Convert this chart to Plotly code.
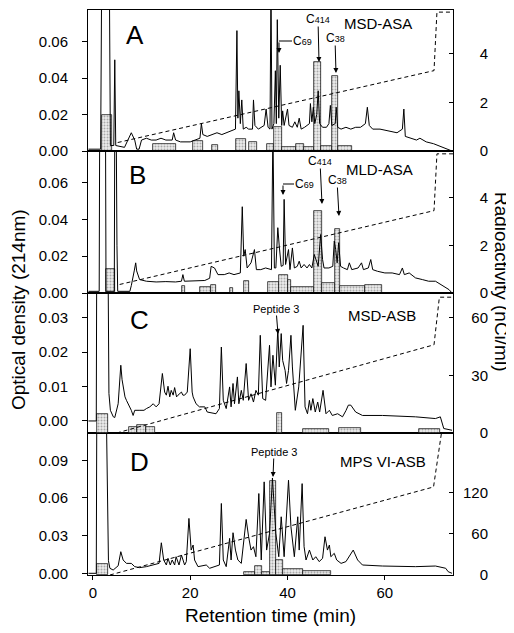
import plotly.graph_objects as go

FONT = "Liberation Sans, Arial, Helvetica, sans-serif"

# ---------------- data ----------------
x_ticks = [0, 20, 40, 60]

# Panel A : MSD-ASA   (time [min], optical density)
a_trace = [(-0.9, 0.001), (1.6, 0.001), (1.8, 0.09), (3.4, 0.09), (3.6, 0.003), (4.3, 0.003), (4.5, 0.050),
           (4.7, 0.003), (6.5, 0.002), (7.2, 0.006), (7.9, 0.010), (8.6, 0.006), (9.0, 0.001), (9.5, 0.001),
           (10.0, 0.006), (11, 0.007), (12, 0.006), (13, 0.006), (14, 0.007), (15, 0.006), (16.3, 0.006),
           (16.6, 0.010), (17.0, 0.006), (18, 0.005), (20, 0.005), (21, 0.006), (22, 0.007), (22.3, 0.015),
           (22.6, 0.009), (23.5, 0.008), (24.5, 0.009), (25.5, 0.010), (26.5, 0.009), (27.5, 0.010),
           (28.5, 0.011), (29.3, 0.012), (29.6, 0.066), (29.8, 0.018), (30.0, 0.033), (30.3, 0.015),
           (30.6, 0.028), (30.9, 0.012), (31.5, 0.013), (32.0, 0.012), (32.8, 0.012), (33.0, 0.028),
           (33.3, 0.014), (34.0, 0.012), (35.2, 0.014), (35.6, 0.023), (36.0, 0.013), (36.4, 0.012),
           (36.6, 0.09), (36.8, 0.012), (37.2, 0.015), (37.5, 0.044), (37.7, 0.015), (37.9, 0.072),
           (38.2, 0.018), (38.5, 0.047), (38.8, 0.014), (39.0, 0.022), (39.3, 0.014), (40.0, 0.023),
           (40.3, 0.014), (41.0, 0.013), (41.5, 0.016), (42.0, 0.013), (42.4, 0.018), (42.8, 0.012),
           (43.5, 0.013), (44.5, 0.015), (44.7, 0.026), (45.0, 0.016), (45.3, 0.024), (45.6, 0.015),
           (46.0, 0.020), (46.3, 0.033), (46.6, 0.015), (47.2, 0.013), (48.0, 0.013), (48.5, 0.015),
           (48.8, 0.025), (49.1, 0.014), (49.8, 0.015), (50.0, 0.024), (50.3, 0.013), (51, 0.012),
           (52, 0.013), (53, 0.012), (54, 0.013), (55, 0.013), (56.0, 0.015), (56.4, 0.024), (56.8, 0.014),
           (57.5, 0.012), (59, 0.012), (61, 0.011), (62.5, 0.010), (63.6, 0.012), (63.9, 0.023),
           (64.2, 0.008), (65.5, 0.007), (66.5, 0.006), (67.2, 0.007), (68.5, 0.005), (70, 0.004),
           (72, 0.002), (73.8, 0.0)]
# radioactivity fractions: (start, end, nCi/ml)
a_bins = [(1.9, 4.0, 1.5), (12.3, 17.1, 0.3), (20.5, 22.6, 0.4), (24.5, 25.8, 0.25), (29.4, 31.4, 0.5),
          (32.0, 33.7, 0.35), (35.7, 37.3, 0.3), (37.3, 38.9, 1.0), (38.9, 41.8, 0.15), (41.8, 43.4, 0.3),
          (43.4, 45.5, 0.15), (45.5, 46.9, 3.65), (46.9, 49.2, 0.2), (49.2, 50.4, 3.1), (50.4, 53.3, 0.2)]
a_grad = [(5.1, 6), (70.1, 57), (70.7, 98.5), (74, 98.5)]

# Panel B : MLD-ASA
b_trace = [(-0.9, 0.0009), (1.3, 0.0009), (1.4, 0.09), (2.6, 0.09), (2.7, 0.0009), (4.4, 0.0009),
           (4.5, 0.09), (4.8, 0.09), (4.95, 0.026), (5.1, 0.0009), (7.6, 0.0009), (7.9, 0.004), (8.5, 0.012),
           (8.8, 0.0164), (9.0, 0.012), (9.3, 0.009), (9.6, 0.0073), (11, 0.0064), (13, 0.0060),
           (15, 0.0062), (17, 0.0060), (18.2, 0.0064), (18.5, 0.010), (18.8, 0.0064), (21, 0.0064),
           (23, 0.0068), (24.0, 0.008), (24.3, 0.0145), (25.0, 0.0136), (25.3, 0.0118), (25.7, 0.010),
           (27, 0.010), (28, 0.0109), (29, 0.010), (30.3, 0.0109), (30.7, 0.0469), (31.0, 0.02),
           (31.3, 0.0236), (31.7, 0.0136), (32.5, 0.0164), (33.2, 0.0236), (33.6, 0.0127), (34.5, 0.0127),
           (35.5, 0.0136), (36.7, 0.0127), (37.0, 0.09), (37.3, 0.0136), (37.6, 0.0136), (38.0, 0.0355),
           (38.3, 0.0255), (38.7, 0.0145), (39.1, 0.015), (39.3, 0.0509), (39.6, 0.0155), (40.2, 0.0236),
           (40.5, 0.0127), (41.0, 0.0245), (41.4, 0.0136), (42.0, 0.0145), (42.4, 0.0173), (42.8, 0.0136),
           (43.4, 0.0155), (44.0, 0.0136), (44.5, 0.0155), (45.0, 0.0136), (45.5, 0.0209), (45.8, 0.0182),
           (46.3, 0.0145), (46.8, 0.0318), (47.2, 0.0182), (47.5, 0.0136), (48.5, 0.0136), (49.3, 0.0145),
           (49.6, 0.0282), (49.9, 0.0236), (50.2, 0.0164), (50.5, 0.0273), (50.9, 0.0145), (51.5, 0.0136),
           (52.3, 0.0127), (52.7, 0.0164), (53.2, 0.0127), (54.5, 0.0136), (55.2, 0.0164), (55.6, 0.0127),
           (56.6, 0.0136), (57.1, 0.0182), (57.5, 0.0127), (58.5, 0.0118), (60, 0.0109), (61.5, 0.0109),
           (63, 0.0100), (63.6, 0.0136), (64.0, 0.0100), (65.0, 0.0109), (66.3, 0.0082), (67.7, 0.0073),
           (69, 0.0064), (70.4, 0.0064), (72, 0.0036), (73.2, 0.0018), (73.8, 0.0)]
b_bins = [(2.7, 4.5, 1.0), (18.3, 19.0, 0.3), (22.0, 24.3, 0.25), (24.3, 25.3, 0.35), (28.1, 28.8, 0.2),
          (31.0, 32.0, 0.5), (36.0, 38.3, 0.45), (38.3, 40.0, 0.75), (40.0, 40.8, 0.55), (40.8, 45.4, 0.25),
          (45.4, 47.0, 3.45), (47.0, 49.8, 0.4), (49.8, 50.8, 2.67), (50.8, 56.0, 0.3), (56.0, 59.5, 0.35)]
b_grad = [(5.5, 6), (70.1, 58), (70.7, 98), (74, 98)]

# Panel C : MSD-ASB
c_trace = [(-0.9, 0.0), (0.7, 0.0), (0.8, 0.05), (3.1, 0.05), (3.3, 0.008), (3.6, 0.0031), (4.2, 0.0012),
           (4.5, 0.001), (5.2, 0.005), (5.5, 0.012), (5.74, 0.0162), (6.0, 0.012), (6.22, 0.0099),
           (6.6, 0.007), (6.9, 0.006), (7.24, 0.005), (7.6, 0.0041), (7.9, 0.0031), (8.27, 0.0016),
           (8.6, 0.0031), (9.5, 0.0031), (10.5, 0.0031), (11.0, 0.0036), (11.7, 0.0041), (12.4, 0.005),
           (13.0, 0.0041), (13.6, 0.005), (14.28, 0.0138), (14.75, 0.0084), (15.1, 0.0075), (15.44, 0.0101),
           (15.8, 0.007), (16.1, 0.0089), (16.5, 0.0075), (16.8, 0.0097), (17.2, 0.0070), (17.5, 0.0075),
           (18.2, 0.0084), (18.5, 0.0075), (18.85, 0.0075), (19.4, 0.0084), (20.0, 0.021), (20.4, 0.0084),
           (20.6, 0.007), (21.2, 0.005), (21.9, 0.0041), (23.0, 0.0041), (23.5, 0.0026), (25.3, 0.0021),
           (26.0, 0.0036), (26.4, 0.0215), (26.8, 0.006), (27.4, 0.0036), (28.1, 0.0099), (28.4, 0.0041),
           (28.8, 0.0109), (29.1, 0.005), (29.7, 0.0128), (30.0, 0.005), (30.5, 0.0089), (30.9, 0.006),
           (31.5, 0.0167), (32.0, 0.006), (32.5, 0.0079), (33.0, 0.0055), (33.5, 0.0089), (34.0, 0.0075),
           (34.4, 0.0249), (34.9, 0.0065), (35.5, 0.006), (36.3, 0.022), (36.6, 0.0099), (37.0, 0.0191),
           (37.5, 0.0104), (38.0, 0.0268), (38.3, 0.0157), (38.7, 0.0254), (39.0, 0.0176), (39.5, 0.0147),
           (39.8, 0.0109), (40.2, 0.0147), (40.7, 0.0249), (41.0, 0.0157), (41.6, 0.0031), (42.3, 0.0099),
           (43.2, 0.0278), (43.6, 0.0041), (44.1, 0.0021), (44.5, 0.006), (44.8, 0.0031), (45.2, 0.0065),
           (45.7, 0.0026), (46.2, 0.0055), (46.6, 0.0026), (47.3, 0.0089), (47.9, 0.0021), (48.6, 0.0031),
           (49.2, 0.0016), (50.3, 0.0021), (51.3, 0.0012), (52.0, 0.003), (52.5, 0.0046), (53.0, 0.0046),
           (54.0, 0.0026), (55.4, 0.0016), (59.5, 0.0016), (66.3, 0.0012), (70.4, 0.0007), (71.4, 0.0012),
           (72.1, -0.0022), (73.8, -0.0027)]
c_bins = [(0.9, 3.1, 10), (7.4, 9.0, 3), (9.0, 11.0, 4), (11.0, 12.7, 3), (37.8, 38.9, 10.5),
          (43.1, 48.6, 2), (50.5, 55.0, 2.5), (67.0, 71.4, 2)]
c_grad = [(4.9, 0), (70.1, 63), (71.2, 97), (74, 97)]

# Panel D : MPS VI-ASB
d_trace = [(-0.9, 0.0), (0.7, 0.0), (0.8, 0.12), (2.8, 0.12), (3.2, 0.01), (3.5, 0.004), (4.17, 0.0026),
           (5.2, 0.006), (5.74, 0.0172), (6.22, 0.0106), (6.9, 0.0079), (7.9, 0.0079), (8.6, 0.0053),
           (9.6, 0.0045), (11.0, 0.0053), (12.4, 0.0066), (13.6, 0.0079), (14.07, 0.0243), (14.55, 0.0106),
           (15.1, 0.0066), (15.44, 0.0119), (15.9, 0.0066), (16.3, 0.0106), (16.8, 0.0066), (17.1, 0.0132),
           (17.7, 0.0066), (18.2, 0.0146), (18.85, 0.0066), (19.2, 0.0093), (19.74, 0.0437), (20.2, 0.0185),
           (20.6, 0.0225), (20.9, 0.0106), (21.6, 0.0053), (23.3, 0.0066), (24.0, 0.004), (25.3, 0.0053),
           (26.0, 0.0066), (26.4, 0.0556), (26.8, 0.0106), (27.4, 0.0053), (28.1, 0.0278), (28.4, 0.0106),
           (28.8, 0.0323), (29.3, 0.0185), (29.8, 0.0106), (30.5, 0.0079), (31.5, 0.0429), (32.0, 0.0291),
           (32.5, 0.0185), (33.0, 0.0212), (33.5, 0.0132), (34.1, 0.0635), (34.6, 0.0106), (35.2, 0.0728),
           (35.7, 0.0185), (36.3, 0.0318), (36.9, 0.0759), (37.6, 0.0318), (38.2, 0.0132), (38.7, 0.045),
           (39.3, 0.0132), (40.2, 0.0741), (40.7, 0.037), (41.4, 0.0132), (42.1, 0.045), (42.4, 0.0185),
           (43.0, 0.0714), (43.4, 0.0212), (43.8, 0.0106), (44.5, 0.0185), (45.2, 0.0106), (45.8, 0.0132),
           (46.5, 0.0093), (47.2, 0.0119), (47.7, 0.0291), (48.2, 0.0185), (48.6, 0.0225), (48.9, 0.0132),
           (49.6, 0.0159), (50.1, 0.0106), (51.0, 0.0079), (52.0, 0.0093), (52.7, 0.0132), (53.5, 0.0185),
           (54.4, 0.0106), (55.4, 0.0066), (59.5, 0.0058), (66.3, 0.0053), (70.4, 0.0058), (72.5, 0.004),
           (73.0, 0.0013), (73.8, 0.0)]
d_bins = [(0.9, 3.2, 15.5), (31.0, 33.4, 5), (33.4, 34.8, 12.6), (34.8, 36.4, 5), (36.4, 37.6, 136),
          (37.6, 39.0, 22), (39.0, 43.1, 8), (43.1, 48.9, 6)]
d_grad = [(3.5, 0), (70.0, 62), (71.8, 104), (74, 104)]

ab_od_ticks = [0, 0.02, 0.04, 0.06]
ab_nci_ticks = [0, 2, 4]
c_od_ticks = [0, 0.01, 0.02, 0.03]
c_nci_ticks = [0, 30, 60]
d_od_ticks = [0, 0.03, 0.06, 0.09]
d_nci_ticks = [0, 60, 120]

# ---------------- geometry (layout only) ----------------
# The page body has an 8 px margin, so the figure is made 8 px smaller and
# its margins shifted so that the plot area lands at window x 88..453, y 10..575.
BODY = 8
W, H = 514 - BODY, 633 - BODY
ML, MT = 88 - BODY, 10 - BODY
MR = W - (453 - BODY)
MB = H - (575 - BODY)
X0, X1, Y0, Y1 = 88, 453, 10, 575   # plot area in window pixels


def pxx(x):
    return (x - X0) / (X1 - X0)


def pxy(y):
    return (Y1 - y) / (Y1 - Y0)


panels = [
    dict(key="A", x="x2", xa="xaxis2", trace=a_trace, bins=a_bins, grad=a_grad,
         dom=[pxy(151), 1.0], od_rng=[0, 0.0773], nci_rng=[0, 5.8],
         od_ticks=ab_od_ticks, nci_ticks=ab_nci_ticks),
    dict(key="B", x="x3", xa="xaxis3", trace=b_trace, bins=b_bins, grad=b_grad,
         dom=[pxy(293), pxy(151)], od_rng=[0, 0.0772], nci_rng=[0, 5.95],
         od_ticks=ab_od_ticks, nci_ticks=ab_nci_ticks),
    dict(key="C", x="x4", xa="xaxis4", trace=c_trace, bins=c_bins, grad=c_grad,
         dom=[pxy(433), pxy(293)], od_rng=[-0.0035, 0.0372], nci_rng=[0, 73],
         od_ticks=c_od_ticks, nci_ticks=c_nci_ticks),
    dict(key="D", x="x", xa="xaxis", trace=d_trace, bins=d_bins, grad=d_grad,
         dom=[0.0, pxy(433)], od_rng=[-0.00135, 0.1117], nci_rng=[0, 206],
         od_ticks=d_od_ticks, nci_ticks=d_nci_ticks),
]

fig = go.Figure()
layout = dict(
    width=W, height=H, margin=dict(l=ML, r=MR, t=MT, b=MB, autoexpand=False),
    paper_bgcolor="white", plot_bgcolor="white", showlegend=False,
    font=dict(family=FONT, size=15, color="black"), bargap=0,
)

FIG_SP = "\u2007"   # digit-wide space: right-aligns the right-hand tick labels

for i, p in enumerate(panels):
    yb, yl, yg = 3 * i + 1, 3 * i + 2, 3 * i + 3
    yb_n, yl_n, yg_n = f"y{yb}", f"y{yl}", f"y{yg}"
    yb_k = "yaxis" if yb == 1 else f"yaxis{yb}"

    # radioactivity fractions (base axis, drawn underneath)
    starts = [b[0] for b in p["bins"]]
    ends = [b[1] for b in p["bins"]]
    vals = [b[2] for b in p["bins"]]
    fig.add_trace(go.Bar(
        x=[(s + e) / 2 for s, e in zip(starts, ends)], y=vals,
        width=[e - s for s, e in zip(starts, ends)],
        xaxis=p["x"], yaxis=yb_n,
        marker=dict(color="#ececec",
                    pattern=dict(shape=".", fgcolor="#666666", bgcolor="#ececec", size=3, solidity=0.35),
                    line=dict(color="black", width=0.7)),
        hoverinfo="skip"))

    # gradient (dashed)
    fig.add_trace(go.Scatter(
        x=[g[0] for g in p["grad"]], y=[g[1] for g in p["grad"]],
        xaxis=p["x"], yaxis=yg_n, mode="lines",
        line=dict(color="black", width=1, dash="4px,3px"), hoverinfo="skip"))

    # chromatogram
    fig.add_trace(go.Scatter(
        x=[t[0] for t in p["trace"]], y=[t[1] for t in p["trace"]],
        xaxis=p["x"], yaxis=yl_n, mode="lines",
        line=dict(color="black", width=1), hoverinfo="skip"))

    layout[yb_k] = dict(
        domain=p["dom"], anchor=p["x"], side="right", range=p["nci_rng"],
        tickvals=p["nci_ticks"],
        ticktext=[FIG_SP * (3 - len(str(v))) + str(v) for v in p["nci_ticks"]],
        ticks="inside", ticklen=4, tickcolor="black", showline=True, linecolor="black", linewidth=1,
        showgrid=False, zeroline=False, ticklabelstandoff=6, fixedrange=True,
        automargin=False)
    layout[f"yaxis{yl}"] = dict(
        overlaying=yb_n, anchor=p["x"], side="left", range=p["od_rng"],
        tickvals=p["od_ticks"], ticktext=[f"{v:.2f}" for v in p["od_ticks"]],
        ticks="outside", ticklen=5, tickcolor="black", showline=True, linecolor="black", linewidth=1,
        showgrid=False, zeroline=False, ticklabelstandoff=11, automargin=False)
    layout[f"yaxis{yg}"] = dict(overlaying=yb_n, anchor=p["x"], range=[0, 100], visible=False)

    xa = dict(domain=[0, 1], anchor=yb_n, range=[-1, 74], showline=True, linecolor="black",
              linewidth=1, mirror=True, showgrid=False, zeroline=False, automargin=False)
    if p["key"] == "D":
        xa.update(tickvals=x_ticks, ticks="outside", ticklen=4, tickcolor="black",
                  title=dict(text="Retention time (min)", font=dict(size=19), standoff=8))
    else:
        xa.update(matches="x", showticklabels=False, ticks="")
    layout[p["xa"]] = xa

# ---------------- annotations ----------------
ann = []


def txt(x, y, s, size, **kw):
    d = dict(x=pxx(x), y=pxy(y), xref="paper", yref="paper", text=s, showarrow=False,
             xanchor="center", yanchor="middle",
             font=dict(family=FONT, size=size, color="black"))
    d.update(kw)
    ann.append(d)


def arrow_label(tx, ty, tipx, tipy, s, size):
    ann.append(dict(x=pxx(tipx), y=pxy(tipy), xref="paper", yref="paper", text=s,
                    showarrow=True, ax=tx - tipx, ay=ty - tipy, axref="pixel", ayref="pixel",
                    arrowhead=2, arrowsize=1, arrowwidth=1, arrowcolor="black", standoff=0,
                    borderpad=0,
                    font=dict(family=FONT, size=size, color="black")))


for key, (x, y) in zip("ABCD", [(135, 35), (137, 175), (139, 320), (139, 462)]):
    txt(x, y, key, 26)

txt(378, 24, "MSD-ASA", 15)
txt(379, 169, "MLD-ASA", 15)
txt(382, 315, "MSD-ASB", 15)
txt(383, 461, "MPS VI-ASB", 15)

sub = lambda n: f"C<span style='font-size:9px'>{n}</span>"
arrow_label(318, 19, 319, 62, sub(414), 12)
arrow_label(335, 38, 336, 73, sub(38), 12)
arrow_label(320, 161, 322, 204, sub(414), 12)
arrow_label(337, 180, 339, 216, sub(38), 12)
arrow_label(276, 309, 278, 334, "Peptide 3", 11)
arrow_label(274, 452, 273, 477, "Peptide 3", 11)

# C69 labels with bent leader
shapes = []
for (tx, ty, lx, tipy) in [(302, 41, 279, 53), (304, 184, 283, 195)]:
    txt(tx, ty, sub(69), 12)
    shapes.append(dict(type="line", xref="paper", yref="paper", x0=pxx(lx), x1=pxx(tx - 10),
                       y0=pxy(ty), y1=pxy(ty), line=dict(color="black", width=1)))
    ann.append(dict(x=pxx(lx), y=pxy(tipy), xref="paper", yref="paper", text="",
                    showarrow=True, ax=0, ay=ty - tipy, axref="pixel", ayref="pixel",
                    arrowhead=2, arrowsize=1, arrowwidth=1, arrowcolor="black", standoff=0,
                    font=dict(size=1)))

txt(19, 310, "Optical density (214nm)", 19, textangle=-90)
txt(502, 281, "Radioactivity (nCi/ml)", 19, textangle=90)

layout["annotations"] = ann
layout["shapes"] = shapes
fig.update_layout(**layout)
fig.write_html("out.html")
